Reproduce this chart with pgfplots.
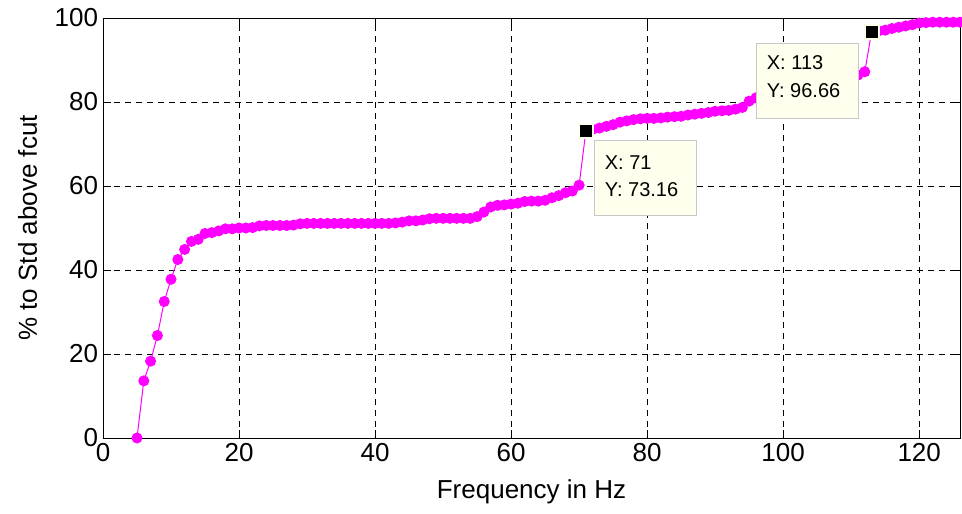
\documentclass[border=0pt]{standalone}
\usepackage{pgfplots}
\pgfplotsset{compat=1.18}
\usepackage{fontspec}
\setmainfont{Liberation Sans}
\definecolor{mag}{RGB}{255,0,255}
\definecolor{tipbg}{RGB}{255,255,238}
\definecolor{tipedge}{RGB}{200,200,200}
\begin{document}
\begin{tikzpicture}
\begin{axis}[
  set layers,
  scale only axis,
  width=857bp, height=420bp,
  xmin=0, xmax=126, ymin=0, ymax=100,
  xtick={0,20,...,120}, ytick={0,20,...,100},
  tick pos=both, tick align=inside,
  major tick length=8bp,
  grid=major,
  major grid style={black, line width=0.6bp, dash pattern=on 6bp off 5bp},
  axis line style={black, line width=0.8bp},
  tick style={black, line width=0.8bp},
  /pgf/number format/assume math mode=true,
  ticklabel style={font=\fontsize{26bp}{30bp}\selectfont},
  xticklabel style={yshift=-1.5bp},
  yticklabel style={xshift=-1.5bp},
  label style={font=\fontsize{26bp}{30bp}\selectfont},
  xlabel={Frequency in Hz},
  ylabel={\% to Std above fcut},
  xlabel style={at={(axis description cs:0.5,-0.128)}, anchor=center},
  ylabel style={at={(axis description cs:-0.088,0.5)}, anchor=center},
  clip=false,
]
\addplot[mag, line width=1bp, mark=*, mark size=5bp, mark options={fill=mag, draw=mag}] coordinates {
(5,0) (6,13.6) (7,18.3) (8,24.4) (9,32.5) (10,37.8) (11,42.5) (12,44.9) (13,46.8) (14,47.3)
(15,48.7) (16,48.9) (17,49.3) (18,49.8) (19,49.8) (20,50.0) (21,50.0) (22,50.1) (23,50.5) (24,50.6)
(25,50.6) (26,50.6) (27,50.6) (28,50.7) (29,51.0) (30,51.1) (31,51.1) (32,51.1) (33,51.1) (34,51.1)
(35,51.1) (36,51.1) (37,51.1) (38,51.1) (39,51.1) (40,51.1) (41,51.1) (42,51.1) (43,51.2) (44,51.4)
(45,51.7) (46,51.7) (47,51.9) (48,52.2) (49,52.3) (50,52.3) (51,52.3) (52,52.3) (53,52.3) (54,52.3)
(55,52.7) (56,53.8) (57,55.0) (58,55.4) (59,55.5) (60,55.7) (61,55.9) (62,56.3) (63,56.4) (64,56.4)
(65,56.6) (66,57.2) (67,57.7) (68,58.4) (69,58.8) (70,60.2) (71,73.16) (72,73.5) (73,73.8) (74,74.2)
(75,74.6) (76,75.2) (77,75.5) (78,75.8) (79,76.0) (80,76.1) (81,76.1) (82,76.2) (83,76.4) (84,76.5)
(85,76.6) (86,76.9) (87,77.1) (88,77.3) (89,77.5) (90,77.8) (91,77.9) (92,78.0) (93,78.3) (94,78.7)
(95,80.2) (96,81.0) (97,81.5) (98,82.0) (99,82.3) (100,82.6) (101,83.0) (102,83.3) (103,83.6) (104,84.0)
(105,84.3) (106,84.6) (107,85.0) (108,85.3) (109,85.6) (110,86.0) (111,86.4) (112,87.2) (113,96.66) (114,96.9)
(115,97.1) (116,97.5) (117,97.8) (118,98.1) (119,98.4) (120,98.8) (121,98.9) (122,99.0) (123,99.0) (124,99.0)
(125,99.0) (126,99.0)
};
\addplot[only marks, mark=square*, mark size=7bp, mark options={fill=black, draw=tipbg, line width=2bp}] coordinates {(71,73.16) (113,96.66)};
\begin{pgfonlayer}{axis foreground}
\draw[fill=tipbg, draw=tipedge, line width=0.8bp] (72.18,70.79) rectangle (87.21,53.10);
\node[anchor=base west, inner sep=0pt, font=\fontsize{20bp}{24bp}\selectfont] at (73.75,63.81) {X: 71};
\node[anchor=base west, inner sep=0pt, font=\fontsize{20bp}{24bp}\selectfont] at (73.75,57.45) {Y: 73.16};
\draw[fill=tipbg, draw=tipedge, line width=0.8bp] (96.02,94.05) rectangle (111.01,76.12);
\node[anchor=base west, inner sep=0pt, font=\fontsize{20bp}{24bp}\selectfont] at (97.58,87.62) {X: 113};
\node[anchor=base west, inner sep=0pt, font=\fontsize{20bp}{24bp}\selectfont] at (97.58,81.02) {Y: 96.66};
\end{pgfonlayer}
\end{axis}
\pgfresetboundingbox
\useasboundingbox (-103bp,-76bp) rectangle (859bp,438bp);
\end{tikzpicture}
\end{document}
